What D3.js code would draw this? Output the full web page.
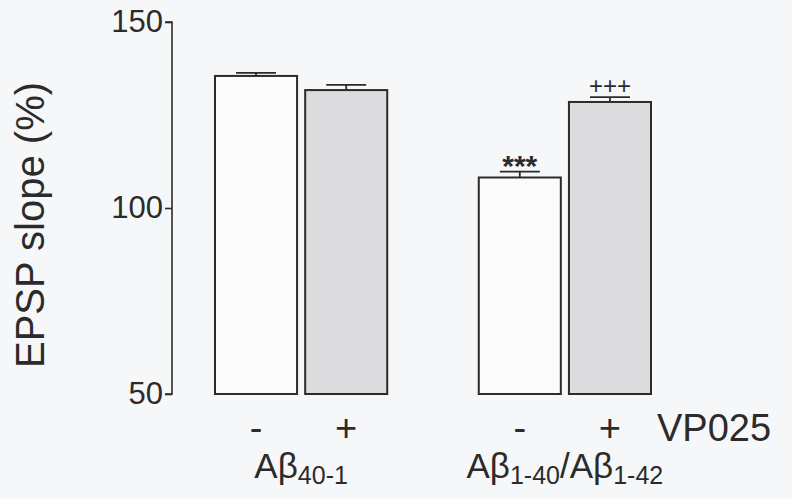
<!DOCTYPE html>
<html>
<head>
<meta charset="utf-8">
<script src="https://cdn.jsdelivr.net/npm/d3@7"></script>
<style>
  html, body { margin: 0; padding: 0; background: #f6f7f8; }
  svg { display: block; font-family: "Liberation Sans", Arial, sans-serif; }
</style>
</head>
<body>
<svg id="chart" width="792" height="499"></svg>
<script>
// EPSP slope (% of baseline) for each peptide group, without (-) and with (+) VP025
const groups = ["Aβ40-1", "Aβ1-40/Aβ1-42"];
const treatments = ["-", "+"];
const means = [135.5, 131.7, 108.2, 128.5];
const sems = [0.8, 1.4, 1.6, 1.3];
const marks = ["", "", "***", "+++"];
const yTicks = [50, 100, 150];

const rows = means.map((m, i) => ({
  group: groups[Math.floor(i / 2)],
  treat: treatments[i % 2],
  mean: m,
  sem: sems[i],
  mark: marks[i]
}));

const svg = d3.select("#chart");
const ink = "#2b2b2b";

const y = d3.scaleLinear().domain([50, 150]).range([394, 22]);
const xGroup = d3.scaleBand().domain(groups).range([215, 651]).paddingInner(0.347).paddingOuter(0);
const xTreat = d3.scaleBand().domain(treatments).range([0, xGroup.bandwidth()]).paddingInner(0.09);

// y axis
const yAxis = svg.append("g")
  .attr("transform", "translate(172,0)")
  .call(d3.axisLeft(y).tickValues(yTicks).tickSize(7).tickPadding(2));
yAxis.select(".domain").attr("stroke", ink).attr("stroke-width", 1.6)
  .attr("d", `M-7,${y(150)}H0V${y(50)}H-7`);
yAxis.selectAll(".tick line").attr("stroke", ink).attr("stroke-width", 1.6);
yAxis.selectAll(".tick text").attr("fill", ink).style("font-size", "31px")
  .style("font-family", "'Liberation Sans', Arial, sans-serif");

svg.append("text")
  .attr("transform", `translate(44,${(y(50) + y(150)) / 2 + 17}) rotate(-90)`)
  .attr("text-anchor", "middle")
  .attr("fill", ink)
  .style("font-size", "40px")
  .text("EPSP slope (%)");

// bars
const bx = d => xGroup(d.group) + xTreat(d.treat);
const bw = xTreat.bandwidth();

svg.append("g").selectAll("rect").data(rows).join("rect")
  .attr("x", bx)
  .attr("y", d => y(d.mean))
  .attr("width", bw)
  .attr("height", d => y(50) - y(d.mean))
  .attr("fill", d => d.treat === "+" ? "#dcdcde" : "#fbfbfb")
  .attr("stroke", ink)
  .attr("stroke-width", 2);

// error bars (upper half)
const eb = svg.append("g").attr("stroke", ink).attr("stroke-width", 1.8);
eb.selectAll("line.v").data(rows).join("line").attr("class", "v")
  .attr("x1", d => bx(d) + bw / 2).attr("x2", d => bx(d) + bw / 2)
  .attr("y1", d => y(d.mean)).attr("y2", d => y(d.mean + d.sem));
eb.selectAll("line.c").data(rows).join("line").attr("class", "c")
  .attr("x1", d => bx(d) + bw / 2 - 20).attr("x2", d => bx(d) + bw / 2 + 20)
  .attr("y1", d => y(d.mean + d.sem)).attr("y2", d => y(d.mean + d.sem));

// significance marks
svg.append("g").selectAll("text").data(rows.filter(d => d.mark)).join("text")
  .attr("x", d => bx(d) + bw / 2)
  .attr("y", d => y(d.mean + d.sem) + (d.mark === "***" ? 4 : -3))
  .attr("text-anchor", "middle")
  .attr("fill", ink)
  .style("font-size", d => d.mark === "+++" ? "24px" : "30px")
  .style("font-weight", d => d.mark === "+++" ? "300" : "bold")
  .text(d => d.mark);

// treatment row
svg.append("g").selectAll("text").data(rows).join("text")
  .attr("x", d => bx(d) + bw / 2)
  .attr("y", 441)
  .attr("text-anchor", "middle")
  .attr("fill", ink)
  .style("font-size", "38px")
  .text(d => d.treat);

svg.append("text")
  .attr("x", 657).attr("y", 441)
  .attr("fill", ink)
  .style("font-size", "38px")
  .text("VP025");

// group labels with subscripted peptide ranges
const groupParts = [
  [["Aβ", false], ["40-1", true]],
  [["Aβ", false], ["1-40", true], ["/Aβ", false], ["1-42", true]]
];
groups.forEach((g, i) => {
  const t = svg.append("text")
    .attr("x", xGroup(g) + xGroup.bandwidth() / 2)
    .attr("y", 478)
    .attr("text-anchor", "middle")
    .attr("fill", ink)
    .style("font-size", "35px");
  groupParts[i].forEach(([s, sub], k) => {
    const ts = t.append("tspan").text(s);
    if (sub) ts.style("font-size", "25px").attr("dy", 6);
    else if (k > 0) ts.attr("dy", -6);
  });
});
</script>
</body>
</html>
